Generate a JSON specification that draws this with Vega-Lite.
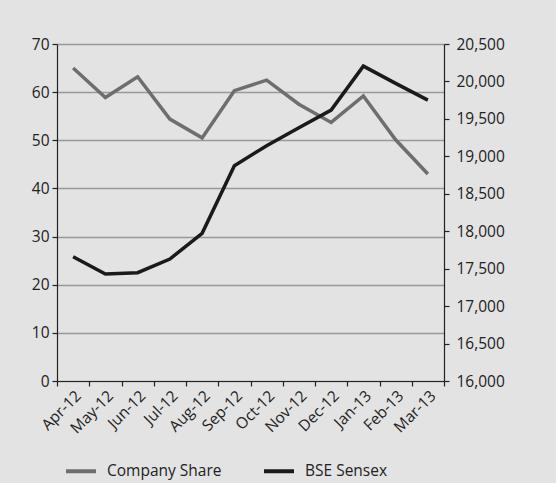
{
  "$schema": "https://vega.github.io/schema/vega-lite/v6.json",
  "autosize": {"type": "none"},
  "padding": {"left": 57, "top": 44, "right": 112, "bottom": 102},
  "width": 387,
  "height": 337,
  "background": "#e3e3e3",
  "config": {
    "view": {"stroke": null},
    "font": "Open Sans",
    "axis": {"labelFont": "Open Sans", "labelFontSize": 15.5, "labelColor": "#222", "domainColor": "#222", "tickColor": "#222", "tickSize": 5, "domainWidth": 1.2, "tickWidth": 1.2, "title": null},
    "legend": {"labelFont": "Open Sans", "labelFontSize": 15.5, "labelColor": "#222"}
  },
  "data": {
    "values": [
      {"month": "Apr-12", "share": 65.0, "sensex": 17659},
      {"month": "May-12", "share": 58.9, "sensex": 17428},
      {"month": "Jun-12", "share": 63.2, "sensex": 17446},
      {"month": "Jul-12", "share": 54.4, "sensex": 17629},
      {"month": "Aug-12", "share": 50.5, "sensex": 17972},
      {"month": "Sep-12", "share": 60.3, "sensex": 18875},
      {"month": "Oct-12", "share": 62.5, "sensex": 19142},
      {"month": "Nov-12", "share": 57.5, "sensex": 19382},
      {"month": "Dec-12", "share": 53.7, "sensex": 19618},
      {"month": "Jan-13", "share": 59.2, "sensex": 20205},
      {"month": "Feb-13", "share": 50.1, "sensex": 19974},
      {"month": "Mar-13", "share": 43.0, "sensex": 19751}
    ]
  },
  "encoding": {
    "x": {
      "field": "month", "type": "ordinal", "sort": null,
      "scale": {"type": "band", "paddingInner": 0, "paddingOuter": 0},
      "bandPosition": 0.5,
      "axis": {"labelAngle": -45, "tickBand": "extent", "grid": false, "labelPadding": 2}
    }
  },
  "layer": [
    {
      "mark": {"type": "line", "strokeWidth": 3.5},
      "encoding": {
        "y": {"field": "share", "type": "quantitative", "scale": {"domain": [0, 70]},
          "axis": {"values": [0, 10, 20, 30, 40, 50, 60, 70], "orient": "left", "grid": true, "gridColor": "#999", "gridWidth": 1.3, "gridOpacity": 1, "labelPadding": 3}},
        "color": {"datum": "Company Share", "type": "nominal",
          "scale": {"domain": ["Company Share", "BSE Sensex"], "range": ["#6e6e6e", "#1a1a1a"]},
          "legend": {"title": null, "orient": "bottom", "direction": "horizontal", "symbolType": "stroke", "symbolSize": 900, "symbolStrokeWidth": 4, "columnPadding": 34, "labelOffset": 9, "offset": 10, "padding": 7}}
      }
    },
    {
      "mark": {"type": "line", "strokeWidth": 3.5},
      "encoding": {
        "y": {"field": "sensex", "type": "quantitative", "scale": {"domain": [16000, 20500], "zero": false},
          "axis": {"values": [16000, 16500, 17000, 17500, 18000, 18500, 19000, 19500, 20000, 20500], "orient": "right", "format": ",.0f", "grid": false, "labelPadding": 7}},
        "color": {"datum": "BSE Sensex", "type": "nominal"}
      }
    }
  ],
  "resolve": {"scale": {"y": "independent"}}
}
